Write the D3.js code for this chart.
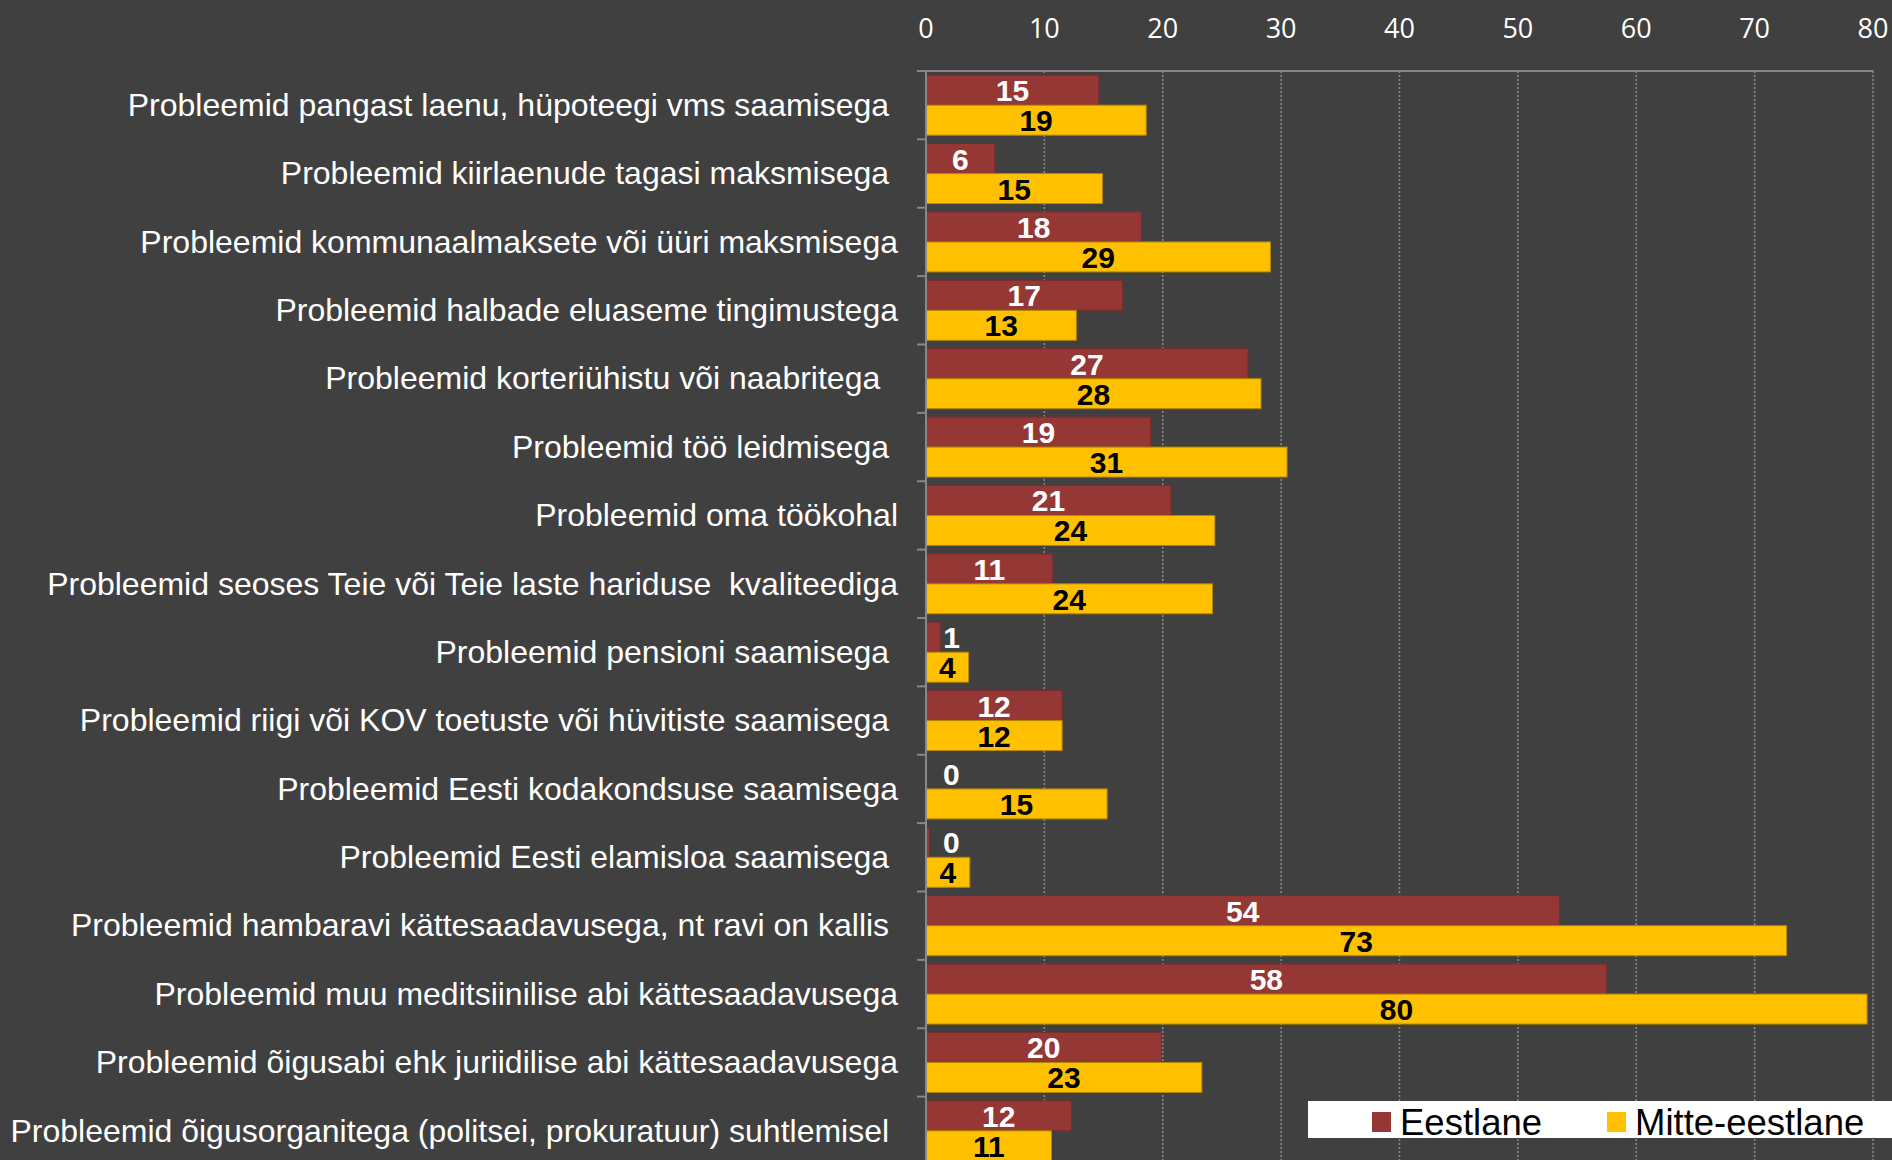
<!DOCTYPE html>
<html>
<head>
    <meta charset="utf-8">
    <style>
        body {
            margin: 0;
            padding: 0;
            background-color: #404040;
            overflow: hidden;
        }
        .cat {
            font-family: "Liberation Sans", Arial, sans-serif;
            font-size: 32px;
            fill: #ffffff;
            white-space: pre;
        }
        .tick-label {
            font-family: "Open Sans", sans-serif;
            font-size: 27px;
            fill: #ffffff;
        }
        .val {
            font-family: "Liberation Sans", Arial, sans-serif;
            font-size: 30px;
            font-weight: bold;
        }
        .legend-text {
            font-family: "Liberation Sans", Arial, sans-serif;
            font-size: 36.5px;
            fill: #000000;
        }
    </style>
    <script src="https://d3js.org/d3.v7.min.js"></script>
</head>
<body>
<div id="chart"></div>
<script>
    // data
    var categories = [
        "Probleemid pangast laenu, hüpoteegi vms saamisega ",
        "Probleemid kiirlaenude tagasi maksmisega ",
        "Probleemid kommunaalmaksete või üüri maksmisega",
        "Probleemid halbade eluaseme tingimustega",
        "Probleemid korteriühistu või naabritega  ",
        "Probleemid töö leidmisega ",
        "Probleemid oma töökohal",
        "Probleemid seoses Teie või Teie laste hariduse  kvaliteediga",
        "Probleemid pensioni saamisega ",
        "Probleemid riigi või KOV toetuste või hüvitiste saamisega ",
        "Probleemid Eesti kodakondsuse saamisega",
        "Probleemid Eesti elamisloa saamisega ",
        "Probleemid hambaravi kättesaadavusega, nt ravi on kallis ",
        "Probleemid muu meditsiinilise abi kättesaadavusega",
        "Probleemid õigusabi ehk juriidilise abi kättesaadavusega",
        "Probleemid õigusorganitega (politsei, prokuratuur) suhtlemisel "
    ];
    var series = ["Eestlane", "Mitte-eestlane"];
    var eestlane = [14.6, 5.8, 18.2, 16.6, 27.2, 19.0, 20.7, 10.7, 1.2, 11.5, 0.1, 0.3, 53.5, 57.5, 19.9, 12.3];
    var mitteEestlane = [18.6, 14.9, 29.1, 12.7, 28.3, 30.5, 24.4, 24.2, 3.6, 11.5, 15.3, 3.7, 72.7, 79.5, 23.3, 10.6];
    var xTicks = [0, 10, 20, 30, 40, 50, 60, 70, 80];

    var colors = { "Eestlane": "#953735", "Mitte-eestlane": "#ffc000" };
    var strokes = { "Eestlane": "#7a2c2b", "Mitte-eestlane": "#b38700" };
    var textColors = { "Eestlane": "#ffffff", "Mitte-eestlane": "#000000" };

    var W = 1892, H = 1160;
    var top0 = 71;
    var svg = d3.select("#chart").append("svg")
        .attr("width", W)
        .attr("height", H);

    var x = d3.scaleLinear().domain([0, 80]).range([926, 1873]);
    // plot area runs a little past the bottom edge of the picture
    var y0 = d3.scaleBand().domain(categories).range([top0, 1165])
        .paddingInner(8.4 / 68.4).paddingOuter(4.2 / 68.4);
    var y1 = d3.scaleBand().domain(series).range([0, y0.bandwidth()]);

    // grid lines
    svg.append("g").selectAll("line")
        .data(xTicks.slice(1))
        .enter().append("line")
        .attr("x1", function(d) { return x(d); })
        .attr("x2", function(d) { return x(d); })
        .attr("y1", top0)
        .attr("y2", H)
        .attr("stroke", "#8c8c8c")
        .attr("stroke-width", 1.5)
        .attr("stroke-dasharray", "2,2");

    // top axis labels
    svg.append("g").selectAll("text")
        .data(xTicks)
        .enter().append("text")
        .attr("class", "tick-label")
        .attr("x", function(d) { return x(d); })
        .attr("y", 38)
        .attr("text-anchor", "middle")
        .text(function(d) { return d; });

    var rows = categories.map(function(c, i) {
        return { cat: c, vals: [
            { s: "Eestlane", v: eestlane[i] },
            { s: "Mitte-eestlane", v: mitteEestlane[i] }
        ] };
    });

    var groups = svg.append("g").selectAll("g")
        .data(rows)
        .enter().append("g")
        .attr("transform", function(d) { return "translate(0," + y0(d.cat) + ")"; });

    groups.selectAll("rect")
        .data(function(d) { return d.vals; })
        .enter().append("rect")
        .attr("x", x(0))
        .attr("y", function(d) { return y1(d.s); })
        .attr("width", function(d) { return x(d.v) - x(0); })
        .attr("height", y1.bandwidth())
        .attr("fill", function(d) { return colors[d.s]; })
        .attr("stroke", function(d) { return strokes[d.s]; })
        .attr("stroke-width", 1);

    groups.selectAll("text.val")
        .data(function(d) { return d.vals; })
        .enter().append("text")
        .attr("class", "val")
        .attr("fill", function(d) {
            return (x(d.v) - x(0) < 30) ? "#ffffff" : textColors[d.s];
        })
        .attr("text-anchor", function(d) { return (x(d.v) - x(0) < 30) ? "start" : "middle"; })
        .attr("x", function(d) {
            var w = x(d.v) - x(0);
            if (w < 30) return Math.max(x(d.v) + 3, x(0) + 17);
            return x(0) + w / 2;
        })
        .attr("y", function(d) { return y1(d.s) + y1.bandwidth() / 2 + 11; })
        .text(function(d) { return Math.round(d.v); });

    // category labels
    svg.append("g").selectAll("text")
        .data(categories)
        .enter().append("text")
        .attr("class", "cat")
        .attr("x", 898)
        .attr("y", function(d) { return y0(d) + y0.bandwidth() / 2 + 10.7; })
        .attr("text-anchor", "end")
        .text(function(d) { return d; });

    // axis lines and category ticks
    var axisColor = "#888888";
    svg.append("line")
        .attr("x1", x(0)).attr("x2", x(80))
        .attr("y1", top0).attr("y2", top0)
        .attr("stroke", axisColor).attr("stroke-width", 2);
    svg.append("line")
        .attr("x1", x(0)).attr("x2", x(0))
        .attr("y1", top0).attr("y2", H)
        .attr("stroke", axisColor).attr("stroke-width", 2);
    svg.append("g").selectAll("line")
        .data(d3.range(categories.length + 1))
        .enter().append("line")
        .attr("x1", x(0) - 9).attr("x2", x(0))
        .attr("y1", function(i) { return top0 + i * y0.step(); })
        .attr("y2", function(i) { return top0 + i * y0.step(); })
        .attr("stroke", axisColor).attr("stroke-width", 2);

    // legend
    var legend = svg.append("g");
    legend.append("rect")
        .attr("x", 1308).attr("y", 1101)
        .attr("width", W - 1308).attr("height", 37)
        .attr("fill", "#ffffff");
    var legX = [1372, 1607];
    series.forEach(function(s, i) {
        legend.append("rect")
            .attr("x", legX[i]).attr("y", 1112)
            .attr("width", 19).attr("height", 20)
            .attr("fill", colors[s]);
        legend.append("text")
            .attr("class", "legend-text")
            .attr("x", legX[i] + 28).attr("y", 1135)
            .text(s);
    });
</script>
</body>
</html>
